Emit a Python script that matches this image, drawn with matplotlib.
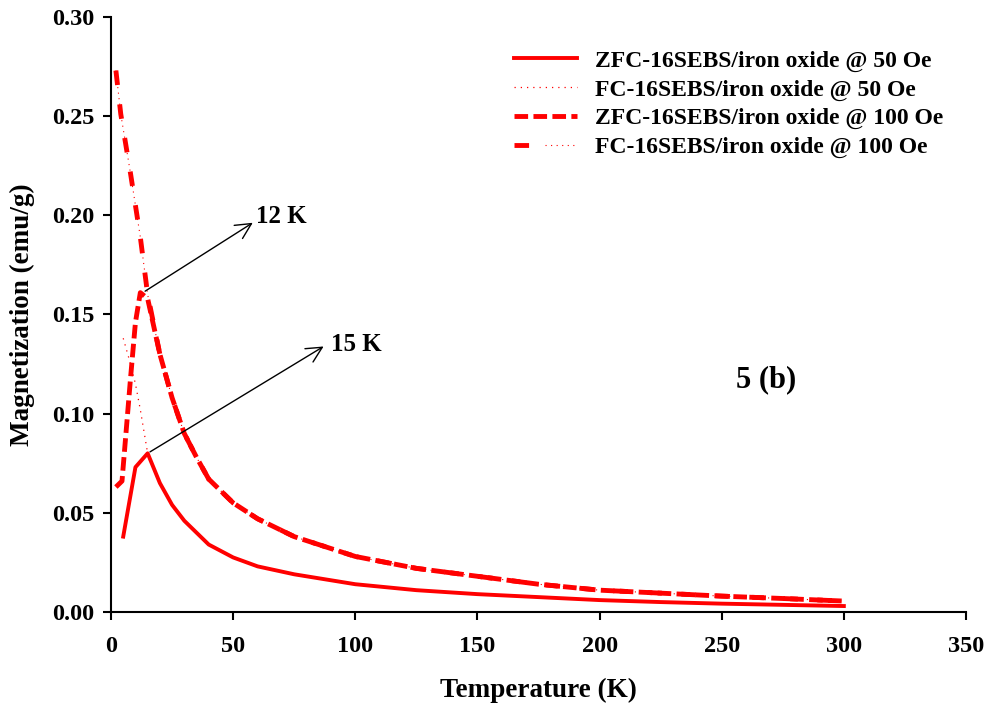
import matplotlib
matplotlib.use("Agg")
import matplotlib.pyplot as plt
from matplotlib.legend_handler import HandlerTuple

plt.rcParams['font.family'] = ['Liberation Serif', 'DejaVu Serif']
plt.rcParams['font.weight'] = 'bold'

# ---- data ----
T_zfc50 = [5, 10, 15, 20, 25, 30, 40, 50, 60, 75, 100, 125, 150, 175, 200, 225, 250, 275, 300]
M_zfc50 = [0.038, 0.073, 0.080, 0.065, 0.054, 0.046, 0.034, 0.0275, 0.023, 0.019, 0.014, 0.011,
           0.009, 0.0075, 0.006, 0.005, 0.0042, 0.0036, 0.003]

T_fc50 = [5, 8, 10, 12, 15, 20, 25, 30, 40, 50, 60, 75, 100, 125, 150, 175, 200, 225, 250, 275, 300]
M_fc50 = [0.138, 0.125, 0.115, 0.102, 0.080, 0.065, 0.054, 0.046, 0.034, 0.0275, 0.023, 0.019,
          0.014, 0.011, 0.009, 0.0075, 0.006, 0.005, 0.0042, 0.0036, 0.003]

T_zfc100 = [2, 4.5, 8, 10, 12, 15, 20, 25, 30, 35, 40, 50, 60, 75, 100, 125, 150, 175, 200, 225, 250, 275, 300]
M_zfc100 = [0.063, 0.066, 0.118, 0.146, 0.161, 0.158, 0.130, 0.108, 0.090, 0.078, 0.067, 0.055,
            0.047, 0.038, 0.028, 0.022, 0.018, 0.014, 0.011, 0.0095, 0.008, 0.0068, 0.0055]

T_fc100 = [2, 4, 6, 8, 10, 12, 15, 20, 25, 30, 35, 40, 50, 60, 75, 100, 125, 150, 175, 200, 225, 250, 275, 300]
M_fc100 = [0.273, 0.251, 0.236, 0.221, 0.205, 0.189, 0.160, 0.130, 0.108, 0.090, 0.078, 0.067, 0.055,
           0.047, 0.038, 0.028, 0.022, 0.018, 0.014, 0.011, 0.0095, 0.008, 0.0068, 0.0055]

labels = ["ZFC-16SEBS/iron oxide @ 50 Oe", "FC-16SEBS/iron oxide @ 50 Oe",
          "ZFC-16SEBS/iron oxide @ 100 Oe", "FC-16SEBS/iron oxide @ 100 Oe"]

x_ticks = [0, 50, 100, 150, 200, 250, 300, 350]
y_ticks = [0.00, 0.05, 0.10, 0.15, 0.20, 0.25, 0.30]

red = '#ff0000'

fig = plt.figure(figsize=(9.85, 7.04), dpi=100)
ax = fig.add_axes([0.1127, 0.1307, 0.868, 0.8452])

# FC 100 Oe: thick dashes + thin dots overlay
l4a, = ax.plot(T_fc100, M_fc100, color=red, lw=3.5, linestyle=(0, (3, 4)), zorder=2)
l4b, = ax.plot(T_fc100, M_fc100, color=red, lw=0.8, linestyle=(0, (1, 4)), zorder=2)
# ZFC 100 Oe dashed
l3, = ax.plot(T_zfc100, M_zfc100, color=red, lw=3.5, linestyle=(0, (2.8, 1.1)), zorder=3)
# ZFC 50 Oe solid
l1, = ax.plot(T_zfc50, M_zfc50, color=red, lw=2.8, linestyle='-', zorder=3)
# FC 50 Oe dotted
l2, = ax.plot(T_fc50, M_fc50, color=red, lw=0.9, linestyle=(0, (1, 4)), zorder=4)

ax.set_xlim(0, 350)
ax.set_ylim(0, 0.30)
ax.set_xticks(x_ticks)
ax.set_yticks(y_ticks)
ax.set_yticklabels([f"{v:.2f}" for v in y_ticks])
ax.set_xticklabels([str(v) for v in x_ticks])

for s in ['top', 'right']:
    ax.spines[s].set_visible(False)
for s in ['left', 'bottom']:
    ax.spines[s].set_linewidth(1.5)
ax.tick_params(direction='out', length=6, width=1.5, labelsize=17.5)
ax.tick_params(axis='y', pad=6)
ax.tick_params(axis='x', pad=11)
for lab in ax.get_xticklabels() + ax.get_yticklabels():
    lab.set_fontweight('bold')

ax.set_xlabel("Temperature (K)", fontsize=19.5, fontweight='bold', labelpad=15)
ax.set_ylabel("Magnetization (emu/g)", fontsize=19.5, fontweight='bold', labelpad=12)

# annotations
ax.annotate("", xy=(59, 0.197), xytext=(13, 0.161),
            arrowprops=dict(arrowstyle='->', color='black', lw=1, mutation_scale=28))
ax.text(59.5, 0.1995, "12 K", fontsize=18, fontweight='bold', ha='left', va='center')
ax.annotate("", xy=(88, 0.1346), xytext=(15, 0.080),
            arrowprops=dict(arrowstyle='->', color='black', lw=1, mutation_scale=28))
ax.text(90, 0.1348, "15 K", fontsize=18, fontweight='bold', ha='left', va='center')
ax.text(268, 0.117, "5 (b)", fontsize=22, fontweight='bold', ha='center', va='center')

leg = ax.legend([l1, l2, l3, (l4a, l4b)], labels, handler_map={tuple: HandlerTuple(ndivide=None, pad=0)},
                loc='upper right', bbox_to_anchor=(0.99, 0.968), frameon=False,
                prop={'weight': 'bold', 'size': 17},
                handlelength=2.7, handletextpad=0.75, labelspacing=0.3, borderaxespad=0.2)

fig.savefig("out.png", dpi=100)
